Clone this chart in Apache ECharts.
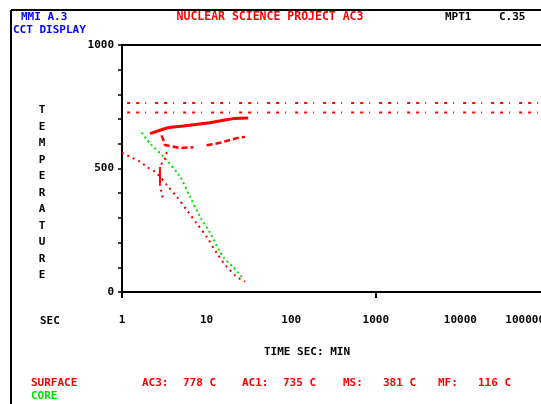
<!DOCTYPE html>
<html><head><meta charset="utf-8">
<script src="https://cdn.jsdelivr.net/npm/echarts@6/dist/echarts.min.js"></script>
<style>html,body{margin:0;padding:0;background:#fff}#c{width:541px;height:404px}</style>
</head><body><div id="c"></div>
<script>
// ---- data ----
const xTickLabels = ['1','10','100','1000','10000','100000'];
const yTickLabels = ['0','500','1000'];
const ac3Line = [[1.15,765],[100000,765]];
const ac1Line = [[1.15,727],[100000,727]];
const surfaceCooling = [[1.0,564],[1.30,544],[1.63,528],[1.96,507],[2.57,481],[3.52,426],[4.43,386],[5.82,332],[7.63,278],[10.0,224],[13.2,157],[17.3,102],[22.7,62],[28.5,42]];
const coreCooling = [[1.71,645],[2.14,602],[3.22,541],[4.85,467],[6.36,386],[8.36,305],[11.0,239],[15.6,143],[20.5,102],[26.9,55]];
const ferriteStart = [[2.14,641],[2.81,655],[3.38,664],[4.04,668],[5.31,672],[6.97,677],[10.9,685],[15.8,695],[20.7,702],[31.0,704]];
const pearliteStart = [[2.94,634],[3.08,615],[3.22,595],[3.38,590],[4.85,583],[6.97,586],[null,null],[10.0,594],[14.4,604],[22.7,623],[28.4,628]];
const bainiteStart = [[3.38,567],[3.22,540],[2.94,519],[2.81,506]];
const bainiteVertical = [[2.81,506],[2.81,438]];
const bainiteTail = [[2.81,438],[2.94,398],[3.08,372]];
const legendValues = ['AC3:','778 C','AC1:','735 C','MS:','381 C','MF:','116 C'];

const FONT = 'DejaVu Sans Mono';
const RED = '#ff0000', GREEN = '#00e000', BLUE = '#0000ff';
const chart = echarts.init(document.getElementById('c'));
const txt = (x,y,s,color,extra) => Object.assign({type:'text',x:x,y:y,style:Object.assign({text:s,fill:color,font:'bold 11px '+FONT,textVerticalAlign:'middle'},extra||{})});
const legendX = [142,183,242,283,343,383,438,478];
const graphics = [
  {type:'line',shape:{x1:11,y1:10,x2:541,y2:10},style:{stroke:'#000',lineWidth:2}},
  {type:'line',shape:{x1:11,y1:10,x2:11,y2:404},style:{stroke:'#000',lineWidth:2}},
  txt(21,17,'MMI A.3',BLUE),
  txt(13,30,'CCT DISPLAY',BLUE),
  txt(270,17,'NUCLEAR SCIENCE PROJECT AC3',RED,{textAlign:'center',font:'bold 11.5px '+FONT}),
  txt(445,17,'MPT1','#000'),
  txt(499,17,'C.35','#000'),
  {type:'text',x:42,y:193,style:{text:'TEMPERATURE'.split('').join('\n'),fill:'#000',font:'bold 11px '+FONT,lineHeight:16.5,textAlign:'center',textVerticalAlign:'middle'}},
  txt(40,321,'SEC','#000'),
  txt(307,352,'TIME SEC: MIN','#000',{textAlign:'center'}),
  txt(31,383,'SURFACE',RED),
  txt(31,396,'CORE',GREEN)
];
legendValues.forEach((s,i)=>graphics.push(txt(legendX[i],383,s,RED)));

const baseX = {type:'log',logBase:10,min:1,max:100000,gridIndex:0};
chart.setOption({
  animation:false,
  grid:{left:122,top:45,width:423,height:247,outerBoundsMode:'none',containLabel:false,show:true,borderColor:'#000',borderWidth:2,backgroundColor:'transparent'},
  xAxis:[
    Object.assign({},baseX,{
      axisLine:{show:true,lineStyle:{color:'#000',width:2}},
      axisTick:{show:false},splitLine:{show:false},minorTick:{show:false},
      axisLabel:{color:'#000',fontFamily:FONT,fontWeight:'bold',fontSize:11,margin:23,alignMaxLabel:'right',
        formatter:v=>{const i=Math.round(Math.log10(v));return xTickLabels[i]||'';}}
    }),
    Object.assign({},baseX,{logBase:1000,position:'bottom',
      axisLine:{show:false},axisLabel:{show:false},splitLine:{show:false},
      axisTick:{show:true,length:6,inside:false,lineStyle:{color:'#000',width:2}}})
  ],
  yAxis:{type:'value',min:0,max:1000,interval:100,
    axisLine:{show:true,lineStyle:{color:'#000',width:2}},
    axisTick:{show:true,length:4,lineStyle:{color:'#000',width:1.5}},
    splitLine:{show:false},
    axisLabel:{color:'#000',fontFamily:FONT,fontWeight:'bold',fontSize:11,margin:8,
      formatter:v=>yTickLabels.includes(String(v))?String(v):''}
  },
  graphic:graphics,
  series:[
    {type:'line',data:ac3Line,symbol:'none',lineStyle:{color:RED,width:2,type:[3,6,3,6,1,9]}},
    {type:'line',data:ac1Line,symbol:'none',lineStyle:{color:RED,width:2,type:[3,6,3,6,1,9]}},
    {type:'line',data:surfaceCooling,symbol:'none',smooth:0.3,lineStyle:{color:RED,width:2,type:[2,4]}},
    {type:'line',data:coreCooling,symbol:'none',smooth:0.3,lineStyle:{color:GREEN,width:2,type:[2,3]}},
    {type:'line',data:ferriteStart,symbol:'none',lineStyle:{color:RED,width:3}},
    {type:'line',data:pearliteStart,symbol:'none',connectNulls:false,lineStyle:{color:RED,width:2.5,type:[6,3]}},
    {type:'line',data:bainiteStart,symbol:'none',lineStyle:{color:RED,width:2,type:[2,4]}},
    {type:'line',data:bainiteVertical,symbol:'none',lineStyle:{color:RED,width:2}},
    {type:'line',data:bainiteTail,symbol:'none',lineStyle:{color:RED,width:2,type:[2,4]}}
  ]
});
</script></body></html>
